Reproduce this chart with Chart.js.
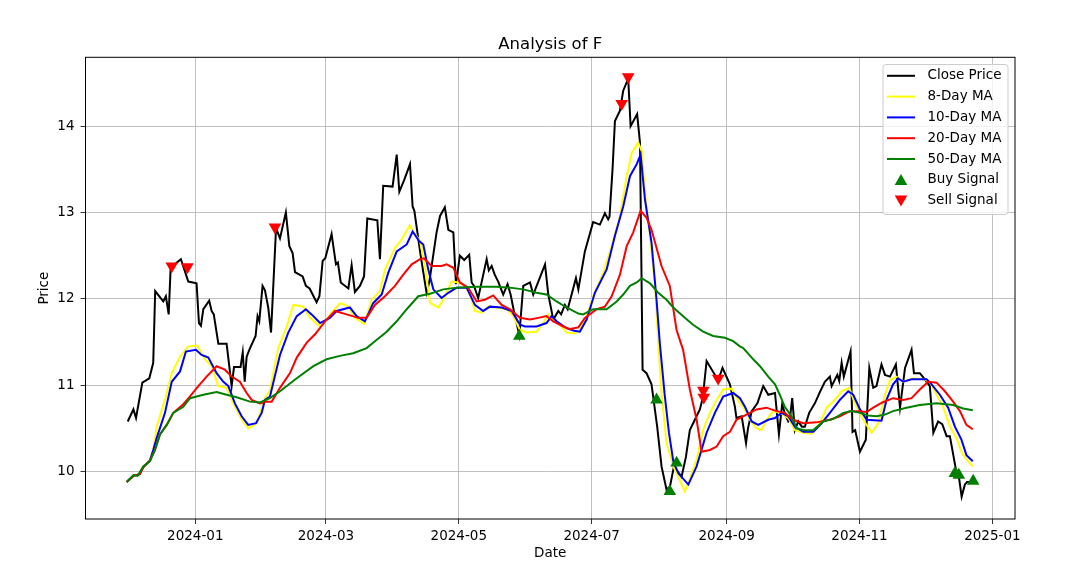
<!DOCTYPE html>
<html>
<head>
<meta charset="utf-8">
<script src="https://cdn.jsdelivr.net/npm/chart.js@4.4.1/dist/chart.umd.min.js"></script>
<style>
  html, body { margin: 0; padding: 0; background: #fff; }
</style>
</head>
<body>
<canvas id="chart" width="1078" height="567"></canvas>
<script>
// x values are days counted from 2024-01-01
const monthTicks = [0, 60, 121, 182, 244, 305, 366];
const monthLabels = ['2024-01', '2024-03', '2024-05', '2024-07', '2024-09', '2024-11', '2025-01'];
const priceTicks = [10, 11, 12, 13, 14];

const closeDays = [-31, -28.4, -27.2, -24.3, -21.1, -19.3, -18.4, -14.7, -13.5, -12.2, -11.3, -6.6, -3.2, 0.6, 1.7, 2.6, 3.7, 6.4, 7.5, 8.5,
  10.6, 14.4, 16.7, 17.8, 20.8, 21.8, 22.7, 23.6, 25, 27.7, 28.6, 29.4, 30.9, 32, 33.5, 34.8, 37.1, 38.9, 41.6, 43.2,
  44.7, 45.8, 49.3, 50.8, 52.5, 55.7, 57, 58.5, 59.7, 62.6, 64.6, 65.5, 66.8, 70.3, 71.8, 73.3, 75.6, 77.5, 79, 83.6,
  84.8, 86.3, 90.6, 92.5, 93.7, 96, 98.6, 99.8, 100.6, 103.5, 106.2, 107.5, 110.8, 112.4, 114.6, 116.2, 118.5, 119.7, 121.5, 123.5,
  125.8, 126.9, 128, 129.9, 133.8, 134.8, 136.1, 137.5, 139.1, 141.4, 143.4, 144.8, 146.3, 148.8, 150.6, 153.7, 155.2, 160.6, 162.1, 164.4,
  166.7, 168, 169.7, 171, 174.8, 175.9, 178.9, 182.7, 185.8, 188.1, 189.6, 190.2, 191.6, 192.7, 195, 196.5, 198.8, 199.9, 202.9, 204.2,
  205.4, 207.2, 209.5, 212.1, 214.1, 216.4, 218, 219.8, 223.3, 225.3, 227.1, 229.4, 231.7, 233, 234.8, 238.6, 240, 242.1, 245.5, 247.8,
  248.5, 250.9, 252.9, 253.8, 255.5, 258.1, 260.8, 263.1, 266.2, 268, 269.5, 271, 272.3, 273, 274.1, 275.3, 276.9, 278.5, 279.9, 281.9,
  284.5, 286.8, 289.1, 291.4, 292.2, 294.8, 295.7, 296.8, 297.8, 300.9, 301.8, 303, 305.2, 307.9, 309.5, 311.3, 312.8, 315.1, 316.7, 319,
  321.7, 323.6, 325.9, 328.9, 330, 332.7, 334, 337.3, 338.9, 341.1, 343, 345, 346.5, 349.3, 350.3, 351.9, 353.4, 354.4, 357];
const closeVals = [10.58, 10.72, 10.62, 11.03, 11.08, 11.26, 12.09, 11.97, 12.03, 11.82, 12.36, 12.46, 12.20, 12.18, 11.72, 11.69, 11.88, 11.98, 11.86, 11.82,
  11.48, 11.48, 10.99, 11.21, 11.21, 11.38, 11.04, 11.33, 11.42, 11.57, 11.80, 11.74, 12.15, 12.10, 11.90, 11.61, 12.82, 12.70, 13.00, 12.61,
  12.53, 12.31, 12.26, 12.15, 12.12, 11.96, 12.03, 12.44, 12.47, 12.75, 12.40, 12.42, 12.19, 12.12, 12.39, 12.08, 12.15, 12.26, 12.93, 12.91,
  12.46, 13.31, 13.30, 13.67, 13.24, 13.38, 13.56, 13.07, 13.02, 12.50, 12.07, 12.20, 12.77, 12.96, 13.06, 12.80, 12.77, 12.17, 12.50, 12.45,
  12.51, 12.19, 12.15, 12.01, 12.46, 12.33, 12.38, 12.28, 12.20, 12.05, 12.17, 12.05, 11.86, 11.58, 12.15, 12.19, 12.05, 12.40, 12.05, 11.76,
  11.86, 11.82, 11.93, 11.88, 12.24, 12.11, 12.55, 12.89, 12.86, 12.99, 12.92, 12.95, 13.50, 14.06, 14.18, 14.41, 14.55, 14.00, 14.14, 13.81,
  11.18, 11.14, 11.01, 10.52, 10.06, 9.79, 9.83, 10.06, 9.94, 10.17, 10.48, 10.60, 10.72, 10.85, 11.28, 11.12, 11.05, 11.20, 11.01, 10.75,
  10.62, 10.64, 10.33, 10.50, 10.70, 10.79, 10.99, 10.89, 10.91, 10.43, 10.78, 10.65, 10.58, 10.60, 10.85, 10.48, 10.58, 10.52, 10.52, 10.68,
  10.79, 10.92, 11.04, 11.10, 10.99, 11.12, 11.05, 11.26, 11.10, 11.39, 10.46, 10.48, 10.23, 10.37, 11.20, 10.97, 10.99, 11.24, 11.12, 11.10,
  11.24, 10.74, 11.20, 11.41, 11.14, 11.14, 11.10, 10.99, 10.45, 10.58, 10.55, 10.41, 10.41, 10.02, 10.00, 9.71, 9.85, 9.88, 9.88];

const ma8Days = [-31.5, -28.4, -25.5, -23.9, -20.8, -19.3, -17.7, -13.9, -10.8, -7, -3.2, 0.9, 4.5, 7.5, 10.6, 14.4, 17.4, 21.3, 24.3, 28.2,
  32, 34.3, 38.1, 42, 45, 49.6, 52.7, 57.3, 60.3, 62.6, 66.5, 69.8, 73.3, 77.5, 81, 84.8, 87.1, 91.7, 94.8, 98.5,
  100.1, 103.2, 105.5, 107.8, 111.6, 113.9, 117.7, 120.8, 123.8, 126.1, 128.4, 131.5, 134.5, 138.4, 143, 146, 149.1, 152.2, 156.7, 159.8,
  162.1, 164.4, 168.2, 170.5, 174.3, 176.6, 179.7, 182.7, 187.3, 191.2, 195, 198.1, 200.4, 203.4, 205, 206.5, 208.8, 211.1, 212.6, 214.1,
  216.4, 219.5, 222.5, 224.8, 227.1, 230.2, 233.2, 236.3, 239.4, 242.4, 246.3, 250.1, 251.6, 254.7, 257.7, 260, 262.3, 265.4, 268.4, 272.3,
  275.3, 279.2, 283, 286.8, 289.9, 293.7, 296.8, 300.3, 302.9, 306.7, 310.6, 313.6, 316.7, 319, 322, 325.1, 329.7, 334.3, 337.3, 340.4,
  343.4, 346.5, 349.5, 351.8, 354.1, 357];
const ma8Vals = [9.88, 9.95, 9.97, 10.05, 10.13, 10.25, 10.52, 10.83, 11.14, 11.33, 11.45, 11.46, 11.30, 11.22, 10.99, 10.97, 10.79, 10.60, 10.50, 10.56,
  10.85, 10.94, 11.43, 11.68, 11.93, 11.91, 11.78, 11.68, 11.76, 11.84, 11.95, 11.92, 11.78, 11.71, 11.99, 12.09, 12.34, 12.59, 12.69, 12.85,
  12.78, 12.67, 12.38, 11.95, 11.90, 11.99, 12.20, 12.19, 12.15, 12.05, 11.86, 11.84, 11.91, 11.90, 11.88, 11.80, 11.64, 11.61, 11.62, 11.72,
  11.82, 11.76, 11.68, 11.61, 11.60, 11.64, 11.80, 12.03, 12.30, 12.61, 12.96, 13.42, 13.69, 13.81, 13.71, 13.23, 12.73, 12.15, 11.49, 10.91,
  10.33, 10.06, 9.90, 9.77, 9.92, 10.14, 10.48, 10.68, 10.83, 10.95, 10.96, 10.79, 10.75, 10.60, 10.50, 10.48, 10.60, 10.70, 10.68, 10.62,
  10.48, 10.45, 10.44, 10.56, 10.74, 10.83, 10.93, 10.97, 10.79, 10.60, 10.45, 10.56, 10.89, 11.06, 11.10, 11.04, 11.08, 11.07, 11.04, 10.89,
  10.75, 10.52, 10.39, 10.23, 10.14, 10.06];

const ma10Days = [-31.5, -28.4, -25.5, -23.9, -20.8, -19.3, -17.7, -13.9, -10.8, -7, -4.3, 0.3, 2.9, 6, 9.8, 12.9, 15.2, 18.2, 21.3, 24.3,
  27.9, 30.5, 32, 34.3, 38.9, 42.7, 46.6, 50.8, 53.4, 57.3, 61.8, 64.9, 71, 74.1, 77.9, 81.7, 85.6, 88.6, 92.5, 97.1,
  99.8, 102.8, 104.7, 107, 109.3, 113.1, 116.2, 120, 124.6, 128.4, 132.2, 135.3, 140.7, 145.3, 149.1, 151.4, 156.7, 161.3, 163.6, 165.9,
  170.5, 174, 176.6, 179.7, 183.5, 188.9, 192.7, 196.5, 199.6, 202.7, 204.5, 206.5, 209.5, 211.8, 213.3, 215.5, 217.5, 219.5, 221.8, 226.4,
  230.2, 234.8, 238.6, 242.4, 247, 250.1, 252.4, 255.5, 258.5, 263.1, 266.2, 269.2, 272.3, 275.3, 279.2, 283.8, 287.6, 291.4, 296, 299.8,
  302.1, 305.2, 308.3, 315.1, 317.4, 320.4, 322.7, 325.1, 328.9, 335.8, 338.1, 341.9, 345.7, 348.8, 351.8, 354.1, 357];
const ma10Vals = [9.88, 9.95, 9.97, 10.05, 10.13, 10.25, 10.39, 10.68, 11.04, 11.16, 11.39, 11.41, 11.35, 11.32, 11.14, 11.04, 10.99, 10.79, 10.64, 10.54,
  10.56, 10.68, 10.83, 10.87, 11.35, 11.61, 11.80, 11.88, 11.82, 11.72, 11.78, 11.86, 11.90, 11.80, 11.74, 11.95, 12.05, 12.30, 12.55, 12.63,
  12.78, 12.67, 12.63, 12.34, 12.11, 12.01, 12.07, 12.13, 12.13, 11.93, 11.86, 11.91, 11.90, 11.86, 11.70, 11.68, 11.68, 11.72, 11.80, 11.74,
  11.66, 11.63, 11.62, 11.76, 12.07, 12.34, 12.73, 13.07, 13.42, 13.56, 13.67, 13.15, 12.65, 11.99, 11.49, 10.90, 10.45, 10.12, 9.98, 9.85,
  10.06, 10.45, 10.68, 10.87, 10.91, 10.85, 10.75, 10.58, 10.54, 10.60, 10.62, 10.68, 10.64, 10.52, 10.46, 10.46, 10.56, 10.68, 10.83, 10.93,
  10.89, 10.72, 10.60, 10.59, 10.83, 11.01, 11.08, 11.04, 11.07, 11.07, 11.01, 10.89, 10.74, 10.52, 10.37, 10.19, 10.12];

const ma20Days = [-31.5, -28.4, -25.5, -23.9, -20.8, -18.5, -16.2, -13.1, -10.1, -5.5, -2.4, 1.4, 5.2, 9.8, 13.6, 16.7, 20.5, 23.6, 25.9, 29.7,
  32.8, 35.1, 38.9, 43.5, 46.6, 51.1, 55, 59.6, 64.1, 69.5, 74.8, 78.7, 82.5, 87.1, 91.7, 95.5, 99.4, 103.2, 105, 108.5,
  113.1, 115.4, 118.5, 121.5, 125.3, 129.2, 133, 136.8, 140.7, 144.5, 149.1, 153.7, 157.5, 161.3, 164.4, 169, 172, 175.9, 178.9, 184.3,
  188.1, 191.2, 195, 198.1, 201.1, 204.5, 207.2, 209.5, 214.1, 217.9, 221, 224, 227.1, 230.2, 232.5, 236.3, 239.4, 242.4, 245.5, 248.5,
  253.1, 257.7, 262.3, 266.9, 270.7, 274.5, 279.2, 285.3, 291.4, 296, 300.6, 304.4, 308.3, 311.3, 315.5, 320.4, 325.1, 328.9, 332.7, 336.5,
  340.4, 344.2, 348, 351.1, 354.1, 357];
const ma20Vals = [9.88, 9.95, 9.97, 10.05, 10.13, 10.25, 10.43, 10.54, 10.68, 10.78, 10.87, 10.99, 11.10, 11.22, 11.18, 11.10, 11.04, 10.91, 10.83, 10.79,
  10.81, 10.81, 10.97, 11.14, 11.32, 11.49, 11.59, 11.74, 11.86, 11.82, 11.78, 11.78, 11.93, 12.03, 12.15, 12.28, 12.40, 12.46, 12.47, 12.38,
  12.38, 12.40, 12.36, 12.19, 12.13, 11.97, 11.99, 12.04, 11.93, 11.88, 11.78, 11.76, 11.78, 11.80, 11.74, 11.68, 11.65, 11.67, 11.78, 11.88,
  11.91, 12.03, 12.28, 12.61, 12.77, 13.02, 12.94, 12.80, 12.38, 12.15, 11.64, 11.41, 10.95, 10.60, 10.23, 10.25, 10.29, 10.41, 10.46, 10.60,
  10.66, 10.72, 10.74, 10.70, 10.68, 10.60, 10.56, 10.57, 10.60, 10.64, 10.70, 10.70, 10.69, 10.74, 10.80, 10.85, 10.83, 10.85, 10.95, 11.04,
  11.03, 10.93, 10.81, 10.70, 10.54, 10.49];

const ma50Days = [-31.5, -28.4, -26.5, -23.9, -20.8, -18.5, -16.2, -13.1, -10.1, -5.5, -2.4, 3.7, 9.8, 14.4, 19, 25.1, 29.7, 34.3, 38.9, 46.6,
  54.2, 60.3, 66.4, 72.5, 78.7, 82.5, 87.9, 92.5, 97.1, 102.4, 107.8, 113.9, 120, 129.2, 138.4, 144.5, 150.6, 156.7, 161.3, 165.9,
  170.5, 175.9, 178.1, 182.7, 188.9, 193.5, 196.5, 199.6, 202.7, 205, 208.8, 212.6, 216.4, 219.5, 224.8, 228.6, 233.2, 237.8, 243.2, 247,
  250.1, 251.6, 256.2, 259.3, 263.1, 266.2, 268.4, 270.7, 273.8, 276.1, 279.9, 283.8, 288.4, 293, 297.6, 301.4, 305.2, 309, 312.9, 316.7,
  320.4, 326.6, 332.7, 340.4, 348, 352.6, 357];
const ma50Vals = [9.88, 9.96, 9.95, 10.06, 10.12, 10.25, 10.43, 10.54, 10.68, 10.75, 10.85, 10.89, 10.92, 10.89, 10.86, 10.81, 10.80, 10.85, 10.93, 11.08,
  11.22, 11.30, 11.34, 11.37, 11.43, 11.51, 11.62, 11.74, 11.88, 12.03, 12.06, 12.11, 12.13, 12.14, 12.14, 12.13, 12.11, 12.07, 12.05, 11.97,
  11.90, 11.83, 11.82, 11.88, 11.88, 11.97, 12.05, 12.15, 12.19, 12.24, 12.18, 12.07, 11.99, 11.90, 11.78, 11.70, 11.62, 11.57, 11.55, 11.51,
  11.45, 11.43, 11.30, 11.22, 11.10, 11.01, 10.89, 10.75, 10.64, 10.50, 10.48, 10.48, 10.58, 10.61, 10.68, 10.70, 10.68, 10.65, 10.64, 10.66,
  10.70, 10.74, 10.77, 10.79, 10.77, 10.73, 10.71];

const buyDays = [148.8, 211.8, 217.9, 221, 348.8, 350.6, 357.2];
const buyVals = [11.57, 10.83, 9.77, 10.10, 9.98, 9.96, 9.89];
const sellDays = [-10.8, -3.6, 36.6, 195.8, 198.8, 233.3, 233.5, 240.1];
const sellVals = [12.38, 12.37, 12.83, 14.26, 14.57, 10.94, 10.86, 11.08];

const FONT = "'DejaVu Sans', 'Liberation Sans', sans-serif";

function pts(days, vals) {
  return days.map((d, i) => ({ x: d, y: vals[i] }));
}

function lineSet(label, days, vals, color, order) {
  return {
    type: 'line',
    label: label,
    data: pts(days, vals),
    borderColor: color,
    backgroundColor: color,
    borderWidth: 2,
    pointRadius: 0,
    tension: 0,
    fill: false,
    order: order
  };
}

const legendItems = [
  { label: 'Close Price', color: 'black', kind: 'line' },
  { label: '8-Day MA', color: 'yellow', kind: 'line' },
  { label: '10-Day MA', color: 'blue', kind: 'line' },
  { label: '20-Day MA', color: 'red', kind: 'line' },
  { label: '50-Day MA', color: 'green', kind: 'line' },
  { label: 'Buy Signal', color: 'green', kind: 'up' },
  { label: 'Sell Signal', color: 'red', kind: 'down' }
];

function triangle(ctx, x, y, r, down) {
  ctx.beginPath();
  if (down) {
    ctx.moveTo(x, y + r);
    ctx.lineTo(x - r * 0.866, y - r * 0.5);
    ctx.lineTo(x + r * 0.866, y - r * 0.5);
  } else {
    ctx.moveTo(x, y - r);
    ctx.lineTo(x - r * 0.866, y + r * 0.5);
    ctx.lineTo(x + r * 0.866, y + r * 0.5);
  }
  ctx.closePath();
  ctx.fill();
}

// frame, titles and legend drawn like matplotlib
const decorations = {
  id: 'decorations',
  afterDraw(chart) {
    const ctx = chart.ctx;
    const a = chart.chartArea;
    ctx.save();
    ctx.strokeStyle = 'black';
    ctx.lineWidth = 1;
    ctx.strokeRect(a.left, a.top, a.right - a.left, a.bottom - a.top);

    ctx.fillStyle = 'black';
    ctx.textAlign = 'center';
    ctx.textBaseline = 'alphabetic';
    ctx.font = '16.5px ' + FONT;
    ctx.fillText('Analysis of F', (a.left + a.right) / 2, 49);

    ctx.font = '13.5px ' + FONT;
    ctx.textBaseline = 'middle';
    ctx.fillText('Date', (a.left + a.right) / 2, 553);
    ctx.save();
    ctx.translate(44, (a.top + a.bottom) / 2);
    ctx.rotate(-Math.PI / 2);
    ctx.fillText('Price', 0, 0);
    ctx.restore();

    // legend box
    const bx = 883, by = 64.5, bw = 125, bh = 150, rr = 3;
    ctx.beginPath();
    ctx.moveTo(bx + rr, by);
    ctx.arcTo(bx + bw, by, bx + bw, by + bh, rr);
    ctx.arcTo(bx + bw, by + bh, bx, by + bh, rr);
    ctx.arcTo(bx, by + bh, bx, by, rr);
    ctx.arcTo(bx, by, bx + bw, by, rr);
    ctx.closePath();
    ctx.fillStyle = 'rgba(255,255,255,0.8)';
    ctx.fill();
    ctx.strokeStyle = '#cccccc';
    ctx.stroke();

    ctx.textAlign = 'left';
    ctx.font = '13.5px ' + FONT;
    legendItems.forEach((it, i) => {
      const y = 75.8 + i * 20.8;
      if (it.kind === 'line') {
        ctx.strokeStyle = it.color;
        ctx.lineWidth = 2;
        ctx.beginPath();
        ctx.moveTo(887, y);
        ctx.lineTo(915, y);
        ctx.stroke();
      } else {
        ctx.fillStyle = it.color;
        triangle(ctx, 901, it.kind === 'up' ? y + 1.5 : y - 1.5, 7.3, it.kind === 'down');
      }
      ctx.fillStyle = 'black';
      ctx.fillText(it.label, 927.5, y);
    });
    ctx.restore();
  }
};

new Chart(document.getElementById('chart'), {
  data: {
    datasets: [
      lineSet('Close Price', closeDays, closeVals, 'black', 7),
      lineSet('8-Day MA', ma8Days, ma8Vals, 'yellow', 6),
      lineSet('10-Day MA', ma10Days, ma10Vals, 'blue', 5),
      lineSet('20-Day MA', ma20Days, ma20Vals, 'red', 4),
      lineSet('50-Day MA', ma50Days, ma50Vals, 'green', 3),
      {
        type: 'scatter',
        label: 'Buy Signal',
        data: pts(buyDays, buyVals),
        pointStyle: 'triangle',
        pointRadius: 7.3,
        pointBackgroundColor: 'green',
        pointBorderWidth: 0,
        order: 2
      },
      {
        type: 'scatter',
        label: 'Sell Signal',
        data: pts(sellDays, sellVals),
        pointStyle: 'triangle',
        rotation: 180,
        pointRadius: 7.3,
        pointBackgroundColor: 'red',
        pointBorderWidth: 0,
        order: 1
      }
    ]
  },
  options: {
    responsive: false,
    animation: false,
    events: [],
    layout: { padding: { left: 0, right: 63, top: 57.3, bottom: 0 } },
    plugins: {
      legend: { display: false },
      title: { display: false },
      tooltip: { enabled: false }
    },
    scales: {
      x: {
        type: 'linear',
        min: -50.4,
        max: 376.4,
        afterBuildTicks: (s) => { s.ticks = monthTicks.map(v => ({ value: v })); },
        afterFit: (s) => { s.height = 48; },
        ticks: {
          autoSkip: false,
          maxRotation: 0,
          color: 'black',
          padding: 4,
          font: { family: FONT, size: 13.5 },
          callback: (v) => monthLabels[monthTicks.indexOf(v)]
        },
        grid: { color: '#b0b0b0', lineWidth: 0.8, tickColor: 'black', tickLength: 5 },
        border: { display: false }
      },
      y: {
        min: 9.451,
        max: 14.797,
        afterBuildTicks: (s) => { s.ticks = priceTicks.map(v => ({ value: v })); },
        afterFit: (s) => { s.width = 85.5; },
        ticks: {
          color: 'black',
          padding: 6,
          font: { family: FONT, size: 13.5 },
          callback: (v) => String(v)
        },
        grid: { color: '#b0b0b0', lineWidth: 0.8, tickColor: 'black', tickLength: 5 },
        border: { display: false }
      }
    }
  },
  plugins: [decorations]
});
</script>
</body>
</html>
